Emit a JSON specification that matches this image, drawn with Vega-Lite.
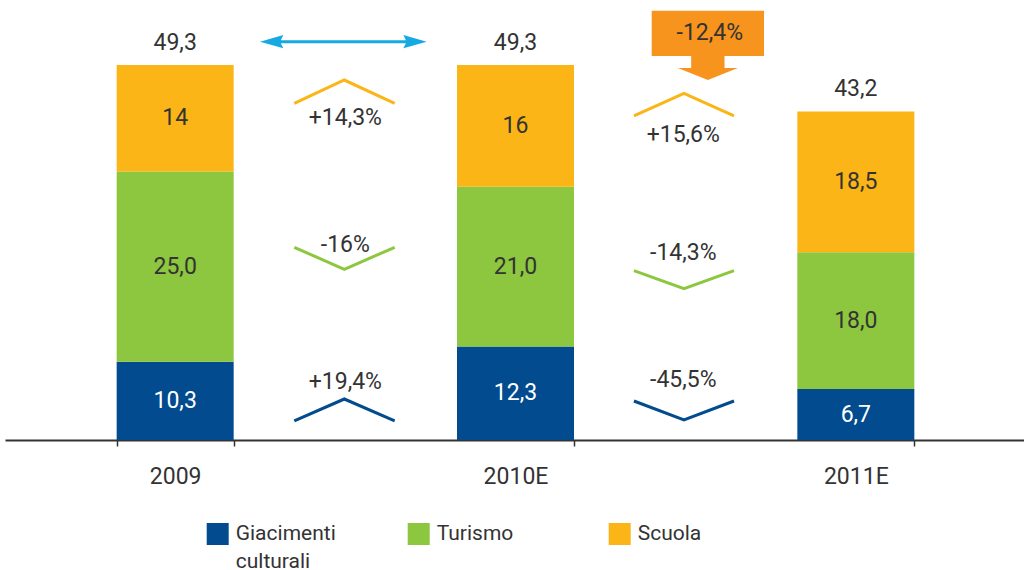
{
  "$schema": "https://vega.github.io/schema/vega-lite/v6.json",
  "width": 1021,
  "height": 440,
  "autosize": {"type": "none"},
  "padding": {"left": 5, "top": 0, "right": 0, "bottom": 130},
  "config": {"view": {"stroke": null}, "font": "Roboto"},
  "datasets": {
    "bars": [
      {"year": "2009", "cat": "Giacimenti culturali", "value": 10.3, "label": "10,3"},
      {"year": "2009", "cat": "Turismo", "value": 25.0, "label": "25,0"},
      {"year": "2009", "cat": "Scuola", "value": 14, "label": "14"},
      {"year": "2010E", "cat": "Giacimenti culturali", "value": 12.3, "label": "12,3"},
      {"year": "2010E", "cat": "Turismo", "value": 21.0, "label": "21,0"},
      {"year": "2010E", "cat": "Scuola", "value": 16, "label": "16"},
      {"year": "2011E", "cat": "Giacimenti culturali", "value": 6.7, "label": "6,7"},
      {"year": "2011E", "cat": "Turismo", "value": 18.0, "label": "18,0"},
      {"year": "2011E", "cat": "Scuola", "value": 18.5, "label": "18,5"}
    ],
    "chevrons": [
      {"seg": "2009-2010E", "cat": "Scuola", "t": 0.35, "v": 44.27},
      {"seg": "2009-2010E", "cat": "Scuola", "t": 0.497, "v": 47.33},
      {"seg": "2009-2010E", "cat": "Scuola", "t": 0.645, "v": 44.27},
      {"seg": "2009-2010E", "cat": "Turismo", "t": 0.35, "v": 25.34},
      {"seg": "2009-2010E", "cat": "Turismo", "t": 0.497, "v": 22.44},
      {"seg": "2009-2010E", "cat": "Turismo", "t": 0.645, "v": 25.34},
      {"seg": "2009-2010E", "cat": "Giacimenti culturali", "t": 0.35, "v": 2.5},
      {"seg": "2009-2010E", "cat": "Giacimenti culturali", "t": 0.497, "v": 5.39},
      {"seg": "2009-2010E", "cat": "Giacimenti culturali", "t": 0.645, "v": 2.5},
      {"seg": "2010E-2011E", "cat": "Scuola", "t": 1.348, "v": 42.6},
      {"seg": "2010E-2011E", "cat": "Scuola", "t": 1.495, "v": 45.58},
      {"seg": "2010E-2011E", "cat": "Scuola", "t": 1.642, "v": 42.6},
      {"seg": "2010E-2011E", "cat": "Turismo", "t": 1.348, "v": 22.26},
      {"seg": "2010E-2011E", "cat": "Turismo", "t": 1.495, "v": 19.89},
      {"seg": "2010E-2011E", "cat": "Turismo", "t": 1.642, "v": 22.26},
      {"seg": "2010E-2011E", "cat": "Giacimenti culturali", "t": 1.348, "v": 5.13},
      {"seg": "2010E-2011E", "cat": "Giacimenti culturali", "t": 1.495, "v": 2.63},
      {"seg": "2010E-2011E", "cat": "Giacimenti culturali", "t": 1.642, "v": 5.13}
    ],
    "changes": [
      {"t": 0.5, "v": 42.3, "text": "+14,3%"},
      {"t": 0.5, "v": 25.64, "text": "-16%"},
      {"t": 0.5, "v": 7.67, "text": "+19,4%"},
      {"t": 1.493, "v": 40.1, "text": "+15,6%"},
      {"t": 1.493, "v": 24.55, "text": "-14,3%"},
      {"t": 1.493, "v": 7.89, "text": "-45,5%"}
    ],
    "arrows": [
      {"kind": "double", "t": 0.4942, "v": 52.37},
      {"kind": "block", "t": 1.5652, "v": 51.89}
    ],
    "notes": [
      {"t": 1.571, "v": 53.51, "text": "-12,4%"}
    ]
  },
  "layer": [
    {
      "layer": [
        {
          "data": {"name": "bars"},
          "transform": [
            {"calculate": "indexof(['Giacimenti culturali','Turismo','Scuola'], datum.cat)", "as": "ord"}
          ],
          "mark": {"type": "bar", "width": 117},
          "encoding": {
            "x": {
              "field": "year", "type": "nominal", "sort": null,
              "scale": {"type": "band", "paddingInner": 0.656, "paddingOuter": 0.328},
              "axis": {
                "title": null, "labelAngle": 0, "labelFontSize": 23, "labelColor": "#333333",
                "labelPadding": 19, "tickBand": "extent", "tickSize": 6, "tickColor": "#333333",
                "tickWidth": 1.5, "domainColor": "#333333", "domainWidth": 2, "grid": false
              }
            },
            "y": {
              "field": "value", "type": "quantitative", "stack": "zero",
              "scale": {"domain": [0, 57.85], "nice": false, "zero": true},
              "axis": null
            },
            "color": {
              "field": "cat", "type": "nominal",
              "scale": {
                "domain": ["Giacimenti culturali", "Turismo", "Scuola"],
                "range": ["#014b8e", "#8dc63f", "#fbb516"]
              },
              "legend": {
                "orient": "none", "legendX": 201.7, "legendY": 523, "direction": "horizontal",
                "columns": 3, "title": null, "symbolType": "square", "symbolSize": 484,
                "symbolStrokeWidth": 0, "symbolOpacity": 1, "labelFontSize": 21,
                "labelColor": "#333333", "labelOffset": 7, "columnPadding": 71, "gridAlign": "all",
                "labelLimit": 300,
                "labelExpr": "datum.label == 'Giacimenti culturali' ? ['Giacimenti', 'culturali'] : [datum.label, '']",
                "encode": {"labels": {"update": {"lineHeight": {"value": 28}}}}
              }
            },
            "order": {"field": "ord", "type": "quantitative"}
          }
        },
        {
          "data": {"name": "bars"},
          "transform": [
            {"calculate": "indexof(['Giacimenti culturali','Turismo','Scuola'], datum.cat)", "as": "ord"},
            {"stack": "value", "groupby": ["year"], "sort": [{"field": "ord"}], "as": ["y0", "y1"]},
            {"calculate": "(datum.y0 + datum.y1) / 2", "as": "mid"}
          ],
          "mark": {"type": "text", "fontSize": 23, "baseline": "middle", "align": "center"},
          "encoding": {
            "x": {"field": "year", "type": "nominal", "sort": null},
            "y": {"field": "mid", "type": "quantitative"},
            "text": {"field": "label"},
            "color": {
              "condition": {"test": "datum.cat === 'Giacimenti culturali'", "value": "white"},
              "value": "#333333"
            }
          }
        },
        {
          "data": {"name": "bars"},
          "transform": [
            {"aggregate": [{"op": "sum", "field": "value", "as": "total"}], "groupby": ["year"]},
            {"calculate": "replace(format(datum.total, '.1f'), '.', ',')", "as": "tlabel"}
          ],
          "mark": {"type": "text", "fontSize": 23, "baseline": "middle", "align": "center", "dy": -22, "color": "#333333"},
          "encoding": {
            "x": {"field": "year", "type": "nominal", "sort": null},
            "y": {"field": "total", "type": "quantitative"},
            "text": {"field": "tlabel"}
          }
        }
      ]
    },
    {
      "layer": [
        {
          "data": {"name": "chevrons"},
          "mark": {"type": "line", "strokeWidth": 3},
          "encoding": {
            "x": {"field": "t", "type": "quantitative", "scale": {"domain": [-0.5, 2.5], "nice": false, "zero": false}, "axis": null},
            "y": {"field": "v", "type": "quantitative"},
            "color": {"field": "cat", "type": "nominal"},
            "detail": {"field": "seg"}
          }
        },
        {
          "data": {"name": "changes"},
          "mark": {"type": "text", "fontSize": 23, "baseline": "middle", "align": "center", "color": "#333333"},
          "encoding": {
            "x": {"field": "t", "type": "quantitative"},
            "y": {"field": "v", "type": "quantitative"},
            "text": {"field": "text"}
          }
        },
        {
          "data": {"name": "arrows"},
          "transform": [{"filter": "datum.kind === 'double'"}],
          "mark": {
            "type": "point", "filled": true, "opacity": 1, "strokeWidth": 0, "color": "#17a9e1", "size": 27789,
            "shape": "M-1,0L-0.72,-0.08L-0.75,-0.018L0.75,-0.018L0.72,-0.08L1,0L0.72,0.08L0.75,0.018L-0.75,0.018L-0.72,0.08Z"
          },
          "encoding": {
            "x": {"field": "t", "type": "quantitative"},
            "y": {"field": "v", "type": "quantitative"}
          }
        },
        {
          "data": {"name": "arrows"},
          "transform": [{"filter": "datum.kind === 'block'"}],
          "mark": {
            "type": "point", "filled": true, "opacity": 1, "strokeWidth": 0, "color": "#f7941d", "size": 12611,
            "shape": "M-1,-0.617L1,-0.617L1,0.19L0.297,0.19L0.297,0.403L0.534,0.403L0,0.617L-0.534,0.403L-0.297,0.403L-0.297,0.19L-1,0.19Z"
          },
          "encoding": {
            "x": {"field": "t", "type": "quantitative"},
            "y": {"field": "v", "type": "quantitative"}
          }
        },
        {
          "data": {"name": "notes"},
          "mark": {"type": "text", "fontSize": 23, "baseline": "middle", "align": "center", "color": "#333333"},
          "encoding": {
            "x": {"field": "t", "type": "quantitative"},
            "y": {"field": "v", "type": "quantitative"},
            "text": {"field": "text"}
          }
        }
      ]
    }
  ],
  "resolve": {"scale": {"x": "independent"}}
}
